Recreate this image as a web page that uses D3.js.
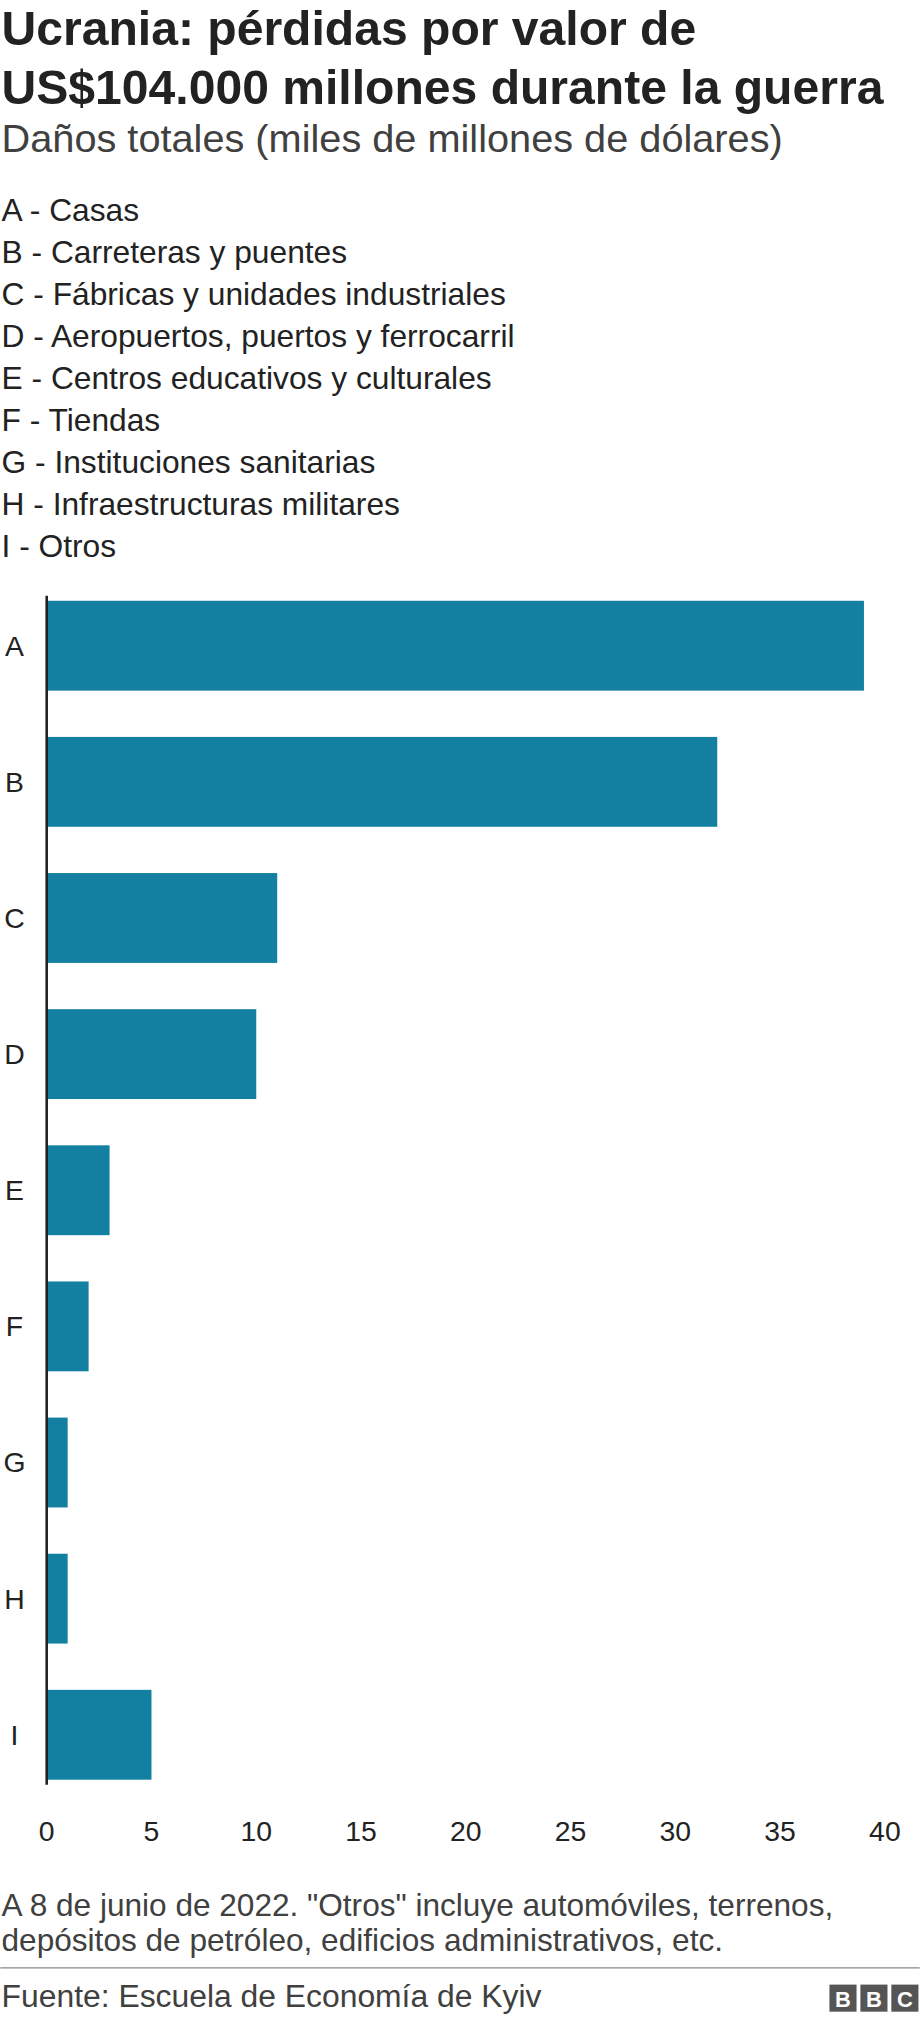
<!DOCTYPE html>
<html>
<head>
<meta charset="utf-8">
<script src="https://cdn.jsdelivr.net/npm/d3@7"></script>
<style>
  body { margin: 0; background: #fff; }
  text { font-family: Arial, "Liberation Sans", Helvetica, sans-serif; }
</style>
</head>
<body>
<svg id="chart"></svg>
<script>
// Data
const categories = ["A", "B", "C", "D", "E", "F", "G", "H", "I"]
const values = [39, 32, 11, 10, 3, 2, 1, 1, 5]
const legendLabels = [
    "A - Casas",
    "B - Carreteras y puentes",
    "C - Fábricas y unidades industriales",
    "D - Aeropuertos, puertos y ferrocarril",
    "E - Centros educativos y culturales",
    "F - Tiendas",
    "G - Instituciones sanitarias",
    "H - Infraestructuras militares",
    "I - Otros"
]
const xTicks = [0, 5, 10, 15, 20, 25, 30, 35, 40]

// Layout is done in a 713 x 1568 frame and scaled to the window
const svg = d3.select("#chart")
    .attr("width", 920)
    .attr("height", 2022)
    .attr("viewBox", "0 0 713 1568")

// Titles
svg.append("text").attr("x", 1).attr("y", 35)
    .attr("font-size", 37.3).attr("font-weight", "bold").attr("fill", "#222")
    .text("Ucrania: pérdidas por valor de")
svg.append("text").attr("x", 1).attr("y", 81)
    .attr("font-size", 37.3).attr("font-weight", "bold").attr("fill", "#222")
    .text("US$104.000 millones durante la guerra")
svg.append("text").attr("x", 1).attr("y", 118)
    .attr("font-size", 30.8).attr("fill", "#404040")
    .text("Daños totales (miles de millones de dólares)")

// Legend
svg.selectAll(".legend")
    .data(legendLabels)
    .enter()
    .append("text")
        .attr("class", "legend")
        .attr("x", 1)
        .attr("y", (d, i) => 171 + i * 32.6)
        .attr("font-size", 24.6)
        .attr("fill", "#222")
        .text(d => d)

// Scales
const xScale = d3.scaleLinear().domain([0, 40]).range([36, 686])
const yScale = d3.scaleBand().domain(categories).range([449, 1397]).paddingInner(0.34).paddingOuter(0.16)

// Bars
svg.selectAll(".bar")
    .data(values)
    .enter()
    .append("rect")
        .attr("class", "bar")
        .attr("x", xScale(0))
        .attr("y", (d, i) => yScale(categories[i]))
        .attr("width", d => xScale(d) - xScale(0))
        .attr("height", yScale.bandwidth())
        .attr("fill", "#1380a1")

// Category labels
svg.selectAll(".cat")
    .data(categories)
    .enter()
    .append("text")
        .attr("class", "cat")
        .attr("x", 11)
        .attr("y", d => yScale(d) + yScale.bandwidth() / 2)
        .attr("dy", "0.35em")
        .attr("text-anchor", "middle")
        .attr("font-size", 22)
        .attr("fill", "#222")
        .text(d => d)

// Vertical axis line
svg.append("line")
    .attr("x1", xScale(0)).attr("x2", xScale(0))
    .attr("y1", 462).attr("y2", 1384)
    .attr("stroke", "#222").attr("stroke-width", 2)

// X tick labels
svg.selectAll(".tick")
    .data(xTicks)
    .enter()
    .append("text")
        .attr("class", "tick")
        .attr("x", d => xScale(d))
        .attr("y", 1428)
        .attr("text-anchor", "middle")
        .attr("font-size", 22)
        .attr("fill", "#222")
        .text(d => d)

// Notes and source
svg.append("text").attr("x", 1).attr("y", 1486)
    .attr("font-size", 24.5).attr("fill", "#404040")
    .text('A 8 de junio de 2022. "Otros" incluye automóviles, terrenos,')
svg.append("text").attr("x", 1).attr("y", 1513)
    .attr("font-size", 24.5).attr("fill", "#404040")
    .text("depósitos de petróleo, edificios administrativos, etc.")
svg.append("line")
    .attr("x1", 0).attr("x2", 713).attr("y1", 1526).attr("y2", 1526)
    .attr("stroke", "#888").attr("stroke-width", 1)
svg.append("text").attr("x", 1).attr("y", 1556)
    .attr("font-size", 24.7).attr("fill", "#404040")
    .text("Fuente: Escuela de Economía de Kyiv")

// BBC blocks
const bbc = svg.append("g").attr("transform", "translate(643,1539)")
;["B", "B", "C"].forEach((l, i) => {
    bbc.append("rect").attr("x", i * 24).attr("y", 0).attr("width", 21).attr("height", 21).attr("fill", "#555")
    bbc.append("text").attr("x", i * 24 + 10.5).attr("y", 17.5).attr("text-anchor", "middle")
        .attr("font-size", 17).attr("font-weight", "bold").attr("fill", "#fff").text(l)
})
</script>
</body>
</html>
